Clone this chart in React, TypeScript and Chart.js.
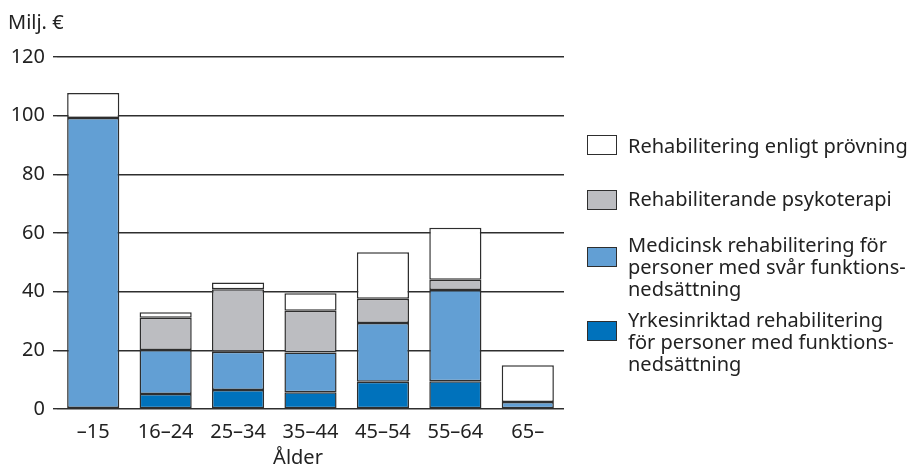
import React, { useEffect, useRef } from "react";
import { Chart, registerables } from "chart.js";

Chart.register(...registerables);

const categories = ["–15", "16–24", "25–34", "35–44", "45–54", "55–64", "65–"];
const yrkesinriktad = [0.3, 5.1, 6.5, 5.7, 9.3, 9.5, null];
const medicinsk = [98.9, 15.0, 13.0, 13.6, 20.0, 31.1, 2.4];
const psykoterapi = [null, 11.0, 21.3, 14.2, 8.3, 3.5, null];
const provning = [8.5, 1.9, 2.3, 6.0, 15.8, 17.7, 12.5];
const yTicks = [0, 20, 40, 60, 80, 100, 120];

const seriesNames = [
  "Rehabilitering enligt prövning",
  "Rehabiliterande psykoterapi",
  "Medicinsk rehabilitering för personer med svår funktions-nedsättning",
  "Yrkesinriktad rehabilitering för personer med funktions-nedsättning",
];

const FONT = "'Noto Sans', sans-serif";
const TEXT = "#222222";
const EDGE = "#2e2e2e";

const legendItems = [
  { color: "#ffffff", lines: ["Rehabilitering enligt prövning"], boxTop: 135, textTop: 135 },
  { color: "#bcbdc1", lines: ["Rehabiliterande psykoterapi"], boxTop: 190, textTop: 188 },
  {
    color: "#629fd4",
    lines: ["Medicinsk rehabilitering för", "personer med svår funktions-", "nedsättning"],
    boxTop: 247,
    textTop: 234,
  },
  {
    color: "#0072bc",
    lines: ["Yrkesinriktad rehabilitering", "för personer med funktions-", "nedsättning"],
    boxTop: 321,
    textTop: 309,
  },
];

export default function App() {
  const canvasRef = useRef<HTMLCanvasElement | null>(null);

  useEffect(() => {
    if (!canvasRef.current) return;
    const ds = (label: string, data: (number | null)[], color: string) => ({
      label,
      data,
      backgroundColor: color,
      borderColor: EDGE,
      borderWidth: 1.5,
      borderSkipped: false as const,
      barPercentage: 0.72,
      categoryPercentage: 1,
    });
    const chart = new Chart(canvasRef.current, {
      type: "bar",
      data: {
        labels: categories,
        datasets: [
          ds(seriesNames[3], yrkesinriktad, "#0072bc"),
          ds(seriesNames[2], medicinsk, "#629fd4"),
          ds(seriesNames[1], psykoterapi, "#bcbdc1"),
          ds(seriesNames[0], provning, "#ffffff"),
        ],
      },
      options: {
        animation: false,
        responsive: true,
        maintainAspectRatio: false,
        layout: { padding: { left: 0, top: 57, right: 349, bottom: 0 } },
        plugins: { legend: { display: false }, tooltip: { enabled: false } },
        scales: {
          x: {
            stacked: true,
            grid: { display: false },
            border: { display: false },
            ticks: {
              color: TEXT,
              font: { family: FONT, size: 20 },
              padding: 3,
              maxRotation: 0,
            },
            afterFit: (s: any) => {
              s.height = 58;
            },
          },
          y: {
            stacked: true,
            min: 0,
            max: 120,
            border: { display: false },
            grid: { color: EDGE, lineWidth: 1.4, tickLength: 4, drawTicks: true },
            afterBuildTicks: (s: any) => {
              s.ticks = yTicks.map((v) => ({ value: v }));
            },
            ticks: {
              color: TEXT,
              font: { family: FONT, size: 20 },
              padding: 8,
            },
            afterFit: (s: any) => {
              s.width = 57;
            },
          },
        },
      },
    });
    return () => chart.destroy();
  }, []);

  return (
    <div
      style={{
        position: "absolute",
        left: 0,
        top: 0,
        width: 913,
        height: 467,
        overflow: "hidden",
        background: "#ffffff",
        fontFamily: FONT,
        color: TEXT,
      }}
    >
      <div style={{ position: "absolute", left: 0, top: 0, width: 913, height: 467 }}>
        <canvas ref={canvasRef} />
      </div>
      <div style={{ position: "absolute", left: 8, top: 11, fontSize: 20, lineHeight: "22px", whiteSpace: "nowrap" }}>
        Milj. €
      </div>
      <div
        style={{
          position: "absolute",
          left: 248,
          width: 100,
          top: 446,
          textAlign: "center",
          fontSize: 20,
          lineHeight: "22px",
          whiteSpace: "nowrap",
        }}
      >
        Ålder
      </div>
      {legendItems.map((it, i) => (
        <React.Fragment key={i}>
          <div
            style={{
              position: "absolute",
              left: 587,
              top: it.boxTop,
              width: 30,
              height: 20,
              boxSizing: "border-box",
              border: `1.5px solid ${EDGE}`,
              background: it.color,
            }}
          />
          <div
            style={{
              position: "absolute",
              left: 628,
              top: it.textTop,
              fontSize: 20,
              lineHeight: "22px",
              whiteSpace: "nowrap",
            }}
          >
            {it.lines.map((l, j) => (
              <div key={j}>{l}</div>
            ))}
          </div>
        </React.Fragment>
      ))}
    </div>
  );
}
